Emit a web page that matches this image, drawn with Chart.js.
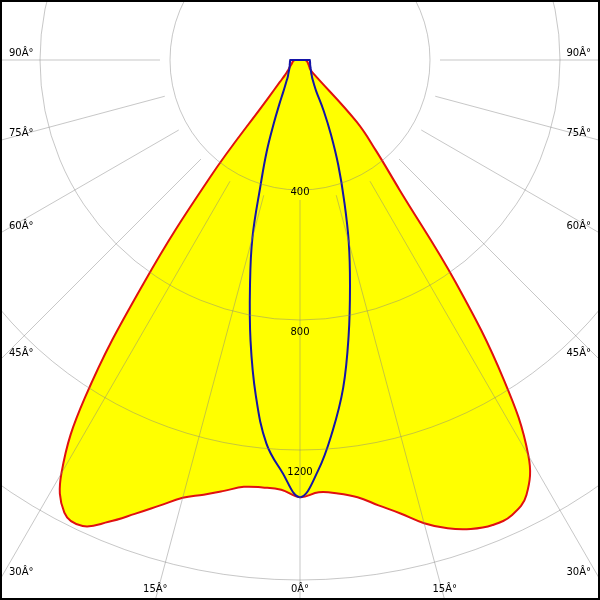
<!DOCTYPE html>
<html><head><meta charset="utf-8">
<script src="https://cdn.jsdelivr.net/npm/chart.js@4"></script>
<style>
html,body{margin:0;padding:0;width:600px;height:600px;overflow:hidden;background:#fff;}
#wrap{position:absolute;left:-350px;top:-590px;width:1300px;height:1300px;}
#frame{position:absolute;left:0;top:0;width:600px;height:600px;box-sizing:border-box;border:2px solid #000;pointer-events:none;}
</style></head><body>
<div id="wrap"><canvas id="c" width="1300" height="1300"></canvas></div>
<div id="frame"></div>
<script>
// gamma angles (deg) from nadir, 2.5 deg steps
const gammaAngles = [0,2.5,5,7.5,10,12.5,15,17.5,20,22.5,25,27.5,30,32.5,35,37.5,40,42.5,45,47.5,50,52.5,55,57.5,60,62.5,65,67.5,70,72.5,75,77.5,80,82.5,85,87.5,90];
// red / yellow plane (cd)
const redLeft  = [1249,1229,1226,1230,1250,1272,1295,1335,1380,1428,1469,1458,1363,1143,780,422,140,85,60,50,44,39,36,33,30,28,26,25,24,23,22,21,20,19,18,16,15];
const redRight = [1249,1236,1243,1260,1292,1327,1370,1403,1426,1438,1434,1401,1305,1085,775,466,337,239,50,40,36,34,32,30,29,27,26,25,24,23,22,21,20,19,18,16,15];
// blue plane (cd)
const blueLeft  = [1249,1178,1100,967,814,660,525,374,278,195,140,105,85,72,62,56,52,48,45,42,40,38,37,35,34,33,32,32,31,30,30,29,29,29,28,28,28];
const blueRight = [1249,1175,1065,945,800,660,538,418,320,232,160,100,80,68,60,55,50,47,44,42,40,38,37,35,34,33,32,31,31,30,30,29,29,29,28,28,28];
// axis labels
const radiusTickLabels = [400, 800, 1200];
const angleTickLabels = [0, 15, 30, 45, 60, 75, 90];

const STEP = 2.5;
const N = 360 / STEP;
const HALF = gammaAngles.length - 1;
const labels = Array.from({length: N}, (_, i) => i * STEP);
function planeData(left, right) {
  return labels.map((_, i) => {
    if (i <= HALF) return left[i];
    if (i >= N - HALF) return right[N - i];
    return 0;
  });
}

const OFFSET = {x: -350, y: -590};
const GRID = 'rgba(130,130,130,0.45)';

const textPlugin = {
  id: 'polarText',
  afterDraw(chart) {
    const r = chart.scales.r;
    const ctx = chart.ctx;
    ctx.save();
    ctx.font = '10px "DejaVu Sans"';
    ctx.fillStyle = '#000';
    ctx.textBaseline = 'middle';
    ctx.textAlign = 'center';
    radiusTickLabels.forEach(v => {
      const d = r.getDistanceFromCenterForValue(v);
      ctx.fillText(String(v), r.xCenter, r.yCenter + d - 8);
    });
    const vw = 600, vh = 600;
    const cx = r.xCenter + OFFSET.x, cy = r.yCenter + OFFSET.y;
    angleTickLabels.forEach(g => {
      [-1, 1].forEach(side => {
        if (g === 0 && side === 1) return;
        const a = g * Math.PI / 180;
        const dx = side * Math.sin(a), dy = Math.cos(a);
        let t = Infinity, edge = 'bottom';
        if (dx < -1e-9) { const tt = (0 - cx) / dx; if (tt < t) { t = tt; edge = 'left'; } }
        if (dx > 1e-9) { const tt = (vw - cx) / dx; if (tt < t) { t = tt; edge = 'right'; } }
        if (dy > 1e-9) { const tt = (vh - cy) / dy; if (tt < t) { t = tt; edge = 'bottom'; } }
        const ex = cx + dx * t, ey = cy + dy * t;
        const text = g + 'Â°';
        let px, py;
        if (edge === 'left') { ctx.textAlign = 'left'; px = 9; py = ey - 7; }
        else if (edge === 'right') { ctx.textAlign = 'right'; px = vw - 9; py = ey - 7; }
        else { ctx.textAlign = 'center'; px = ex; py = vh - 11; }
        ctx.fillText(text, px - OFFSET.x, py - OFFSET.y);
      });
    });
    ctx.restore();
  }
};

new Chart(document.getElementById('c'), {
  type: 'radar',
  data: {
    labels: labels,
    datasets: [
      {
        data: planeData(blueLeft, blueRight),
        borderColor: '#1414a8',
        borderWidth: 2,
        fill: false,
        pointRadius: 0,
        tension: 0.4
      },
      {
        data: planeData(redLeft, redRight),
        borderColor: '#e01010',
        backgroundColor: '#ffff00',
        borderWidth: 2,
        fill: 'origin',
        pointRadius: 0,
        tension: 0.4
      }
    ]
  },
  options: {
    responsive: false,
    animation: false,
    devicePixelRatio: 1,
    layout: {padding: 0},
    plugins: {legend: {display: false}, tooltip: {enabled: false}},
    scales: {
      r: {
        min: 0,
        max: 1857,
        startAngle: 180,
        ticks: {display: false, stepSize: 400, z: 1},
        pointLabels: {display: false},
        grid: {
          z: 1,
          circular: true,
          lineWidth: 1,
          color: ctx => (ctx.tick && ctx.tick.value > 0 && ctx.tick.value <= 1600) ? GRID : 'rgba(0,0,0,0)'
        },
        angleLines: {
          lineWidth: 1,
          color: ctx => (ctx.index % 6 === 0 && (ctx.index <= HALF || ctx.index >= N - HALF)) ? GRID : 'rgba(0,0,0,0)',
          borderDash: ctx => [0, ctx.chart.scales.r.getDistanceFromCenterForValue(400), 3000]
        }
      }
    }
  },
  plugins: [textPlugin]
});
</script>
</body></html>
